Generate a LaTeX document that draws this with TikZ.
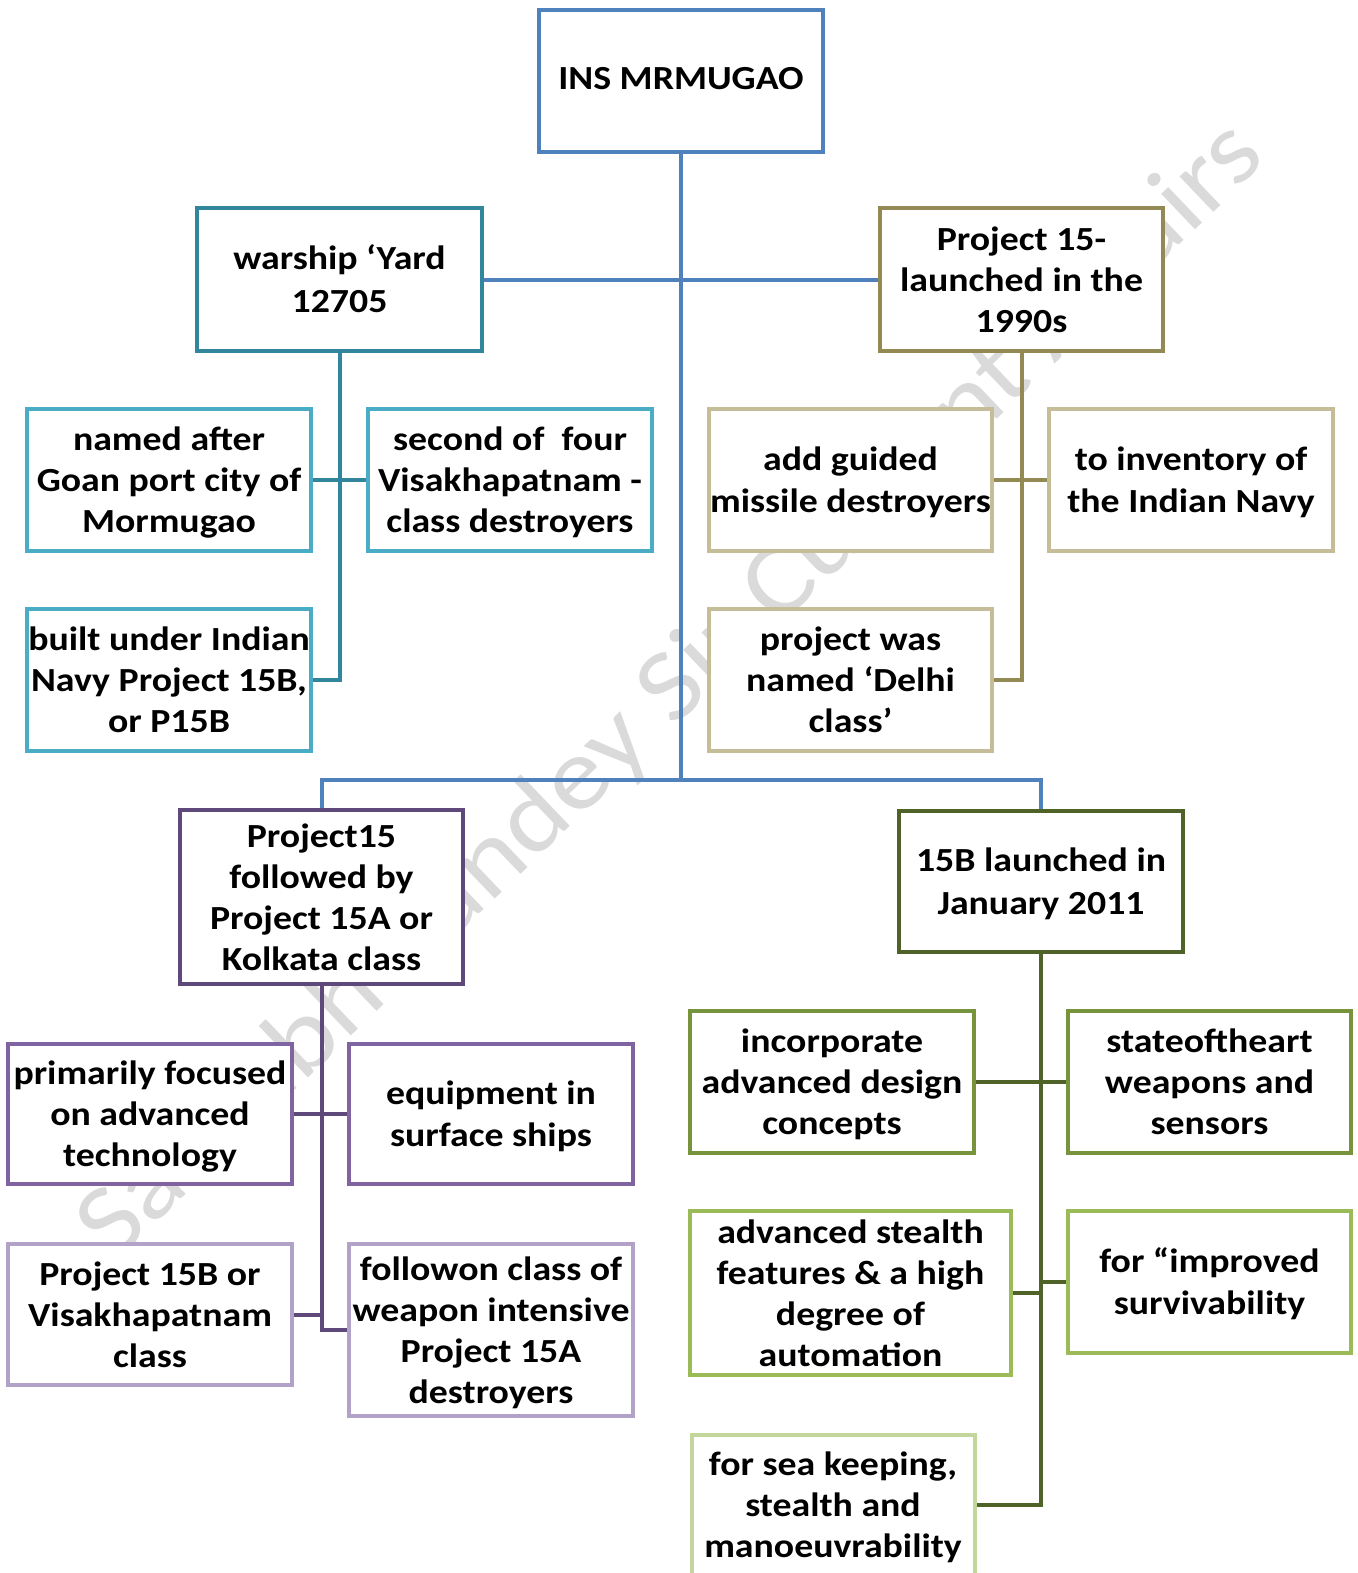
\documentclass[tikz,border=0pt]{standalone}
\usepackage{fontspec}
\setmainfont{Carlito}[FakeStretch=1.12]
\definecolor{cblue}{HTML}{4F81BD}
\definecolor{cteal}{HTML}{31859C}
\definecolor{clblue}{HTML}{4BACC6}
\definecolor{colive}{HTML}{938953}
\definecolor{ctan}{HTML}{C4BD97}
\definecolor{cdpurple}{HTML}{5F497A}
\definecolor{cpurple}{HTML}{8064A2}
\definecolor{clpurple}{HTML}{B3A2C7}
\definecolor{cdgreen}{HTML}{4F6228}
\definecolor{cgreen}{HTML}{77933C}
\definecolor{clgreen}{HTML}{9BBB59}
\definecolor{cllgreen}{HTML}{C3D69B}
\definecolor{wmark}{HTML}{DADADA}
\newcommand\mystrut{\rule[-0.269em]{0pt}{1.221em}}
\newcommand\mybox[8][0pt]{%
  \node[box=#3, minimum width={(#6-#4)*0.75pt}, minimum height={(#7-#5)*0.75pt}] (#2) at ({(#4+#6)/2},{(#5+#7)/2}) {};
  \node[txt] (#2-t) at ([yshift=#1]#2.center) {\mystrut#8\mystrut};}
\begin{document}
\begin{tikzpicture}[x=0.75pt,y=-0.75pt,
  box/.style={draw=#1, fill=white, line width=3pt, inner sep=0pt},
  txt/.style={inner sep=0pt, align=center, font=\bfseries\fontsize{25.3}{30.75}\selectfont},
  conn/.style={draw=#1, line width=3pt}]
\useasboundingbox (0,0) rectangle (1357,1573);
% watermark
\node[text=wmark, rotate=43.7, font=\fontsize{77}{80}\selectfont] (wm) at (672,692) {Saurabh Pandey Sir Current Affairs};
\coordinate (jr) at (681,780);
% boxes
\mybox[2.25pt]{root}{cblue}{539}{10}{823}{152}{INS MRMUGAO}
\mybox{yard}{cteal}{197}{208}{482}{351}{warship ‘Yard\\12705}
\mybox{p15}{colive}{880}{208}{1163}{351}{Project 15-\\launched in the\\1990s}
\mybox{named}{clblue}{27}{409}{311}{551}{named after\\Goan port city of\\Mormugao}
\mybox{second}{clblue}{368}{409}{652}{551}{second of~ four\\Visakhapatnam -\\class destroyers}
\mybox{built}{clblue}{27}{609}{311}{751}{built under Indian\\Navy Project 15B,\\or P15B}
\mybox{guided}{ctan}{709}{409}{992}{551}{add guided\\missile destroyers}
\mybox{invent}{ctan}{1049}{409}{1333}{551}{to inventory of\\the Indian Navy}
\mybox{delhi}{ctan}{709}{609}{992}{751}{project was\\named ‘Delhi\\class’}
\mybox{p15a}{cdpurple}{180}{810}{463}{984}{Project15\\followed by\\Project 15A or\\Kolkata class}
\mybox{focused}{cpurple}{8}{1044}{292}{1184}{primarily focused\\on advanced\\technology}
\mybox{equip}{cpurple}{349}{1044}{633}{1184}{equipment in\\surface ships}
\mybox{visak}{clpurple}{8}{1244}{292}{1385}{Project 15B or\\Visakhapatnam\\class}
\mybox{follow}{clpurple}{349}{1244}{633}{1416}{followon class of\\weapon intensive\\Project 15A\\destroyers}
\mybox{b15}{cdgreen}{899}{811}{1183}{952}{15B launched in\\January 2011}
\mybox{incorp}{cgreen}{690}{1011}{974}{1153}{incorporate\\advanced design\\concepts}
\mybox{state}{cgreen}{1068}{1011}{1351}{1153}{stateoftheart\\weapons and\\sensors}
\mybox{stealth}{clgreen}{690}{1211}{1011}{1375}{advanced stealth\\features \& a high\\degree of\\automation}
\mybox{surv}{clgreen}{1068}{1211}{1351}{1353}{for “improved\\survivability}
\node[box=cllgreen, minimum width={283*0.75pt}, minimum height={170*0.75pt}] (sea) at (833,1520) {};
\node[txt] (sea-t) at (833,1505) {\mystrut for sea keeping,\\stealth and\\manoeuvrability\mystrut};
% root connectors
\draw[conn=cblue] (root.south) -- (jr);
\draw[conn=cblue] (yard.east) -- (p15.west);
\draw[conn=cblue] (p15a.north) |- (jr) -| (b15.north);
% teal
\coordinate (jt) at (yard.south |- built.east);
\draw[conn=cteal] (yard.south) -- (jt) -- (built.east);
\draw[conn=cteal] (named.east) -- (second.west);
% olive
\coordinate (jo) at (p15.south |- delhi.east);
\draw[conn=colive] (p15.south) -- (jo) -- (delhi.east);
\draw[conn=colive] (guided.east) -- (invent.west);
% purple
\coordinate (jp) at (p15a.south |- 0,1330);
\draw[conn=cdpurple] (p15a.south) -- (jp) -- (follow.west |- jp);
\draw[conn=cdpurple] (focused.east) -- (equip.west);
\draw[conn=cdpurple] (visak.east) -- (p15a.south |- visak.east);
% green
\coordinate (jg) at (b15.south |- 0,1505);
\draw[conn=cdgreen] (b15.south) -- (jg) -- (sea.east |- jg);
\draw[conn=cdgreen] (incorp.east) -- (state.west);
\draw[conn=cdgreen] (stealth.east |- 0,1293) -- (b15.south |- 0,1293);
\draw[conn=cdgreen] (b15.south |- 0,1282) -- (surv.west |- 0,1282);
\end{tikzpicture}
\end{document}
